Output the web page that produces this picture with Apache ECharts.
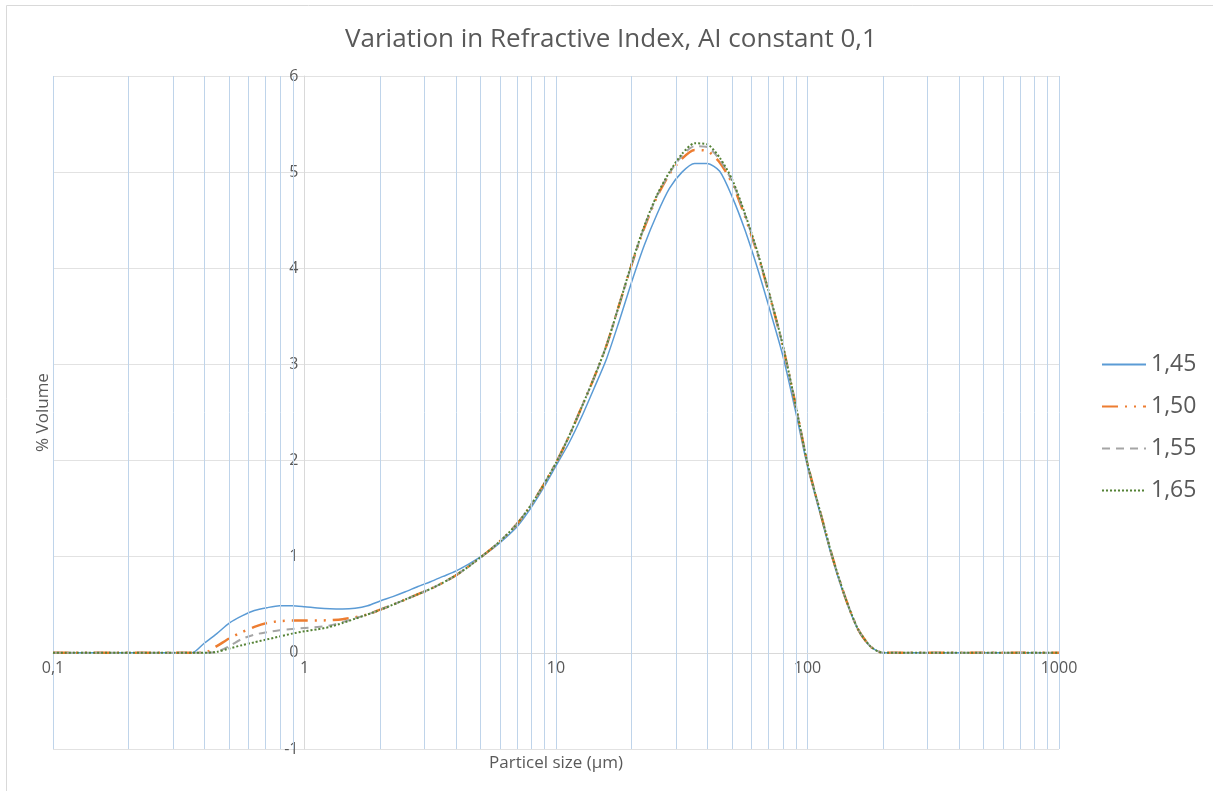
<!DOCTYPE html>
<html>
<head>
<meta charset="utf-8">
<script src="https://cdn.jsdelivr.net/npm/echarts@6/dist/echarts.min.js"></script>
<style>
  html, body { margin: 0; padding: 0; background: #ffffff; }
  #chart { width: 1213px; height: 791px; }
</style>
</head>
<body>
<div id="chart"></div>
<script>
// Particle size classes (µm)
const sizes = [0.1, 0.2, 0.3, 0.356, 0.399, 0.448, 0.502, 0.564, 0.632, 0.710, 0.796, 0.893,
  1.002, 1.125, 1.262, 1.416, 1.589, 1.783, 2.0, 2.244, 2.518, 2.825, 3.17, 3.557, 3.991, 4.477,
  5.024, 5.637, 6.325, 7.096, 7.962, 8.934, 10.02, 11.25, 12.62, 14.16, 15.89, 17.83, 20.0, 22.44,
  25.18, 28.25, 31.7, 35.57, 39.91, 44.77, 50.24, 56.37, 63.25, 70.96, 79.62, 89.34,
  100.2, 112.5, 126.2, 141.6, 158.9, 178.3, 200, 300, 500, 700, 1000];

// % Volume for each refractive index
const ri145 = [0, 0, 0, 0, 0.10, 0.20, 0.31, 0.385, 0.44, 0.47, 0.49, 0.49,
  0.48, 0.467, 0.458, 0.455, 0.463, 0.49, 0.54, 0.585, 0.635, 0.69, 0.74, 0.795, 0.85, 0.92,
  1.0, 1.09, 1.2, 1.33, 1.51, 1.72, 1.95, 2.18, 2.45, 2.75, 3.06, 3.45, 3.86, 4.24,
  4.56, 4.83, 5.0, 5.09, 5.09, 5.01, 4.74, 4.4, 4.0, 3.56, 3.1, 2.53,
  1.93, 1.44, 0.96, 0.56, 0.24, 0.065, 0, 0, 0, 0, 0];

const ri150 = [0, 0, 0, 0, 0, 0.07, 0.15, 0.215, 0.27, 0.31, 0.33, 0.336,
  0.336, 0.336, 0.34, 0.35, 0.37, 0.40, 0.45, 0.50, 0.555, 0.61, 0.665, 0.73, 0.805, 0.895,
  0.995, 1.1, 1.22, 1.36, 1.54, 1.75, 1.98, 2.25, 2.55, 2.86, 3.2, 3.62, 4.04, 4.42,
  4.74, 4.98, 5.14, 5.23, 5.22, 5.1, 4.88, 4.54, 4.15, 3.7, 3.2, 2.6,
  1.96, 1.46, 0.98, 0.57, 0.245, 0.065, 0, 0, 0, 0, 0];

const ri155 = [0, 0, 0, 0, 0, 0.01, 0.07, 0.145, 0.19, 0.215, 0.235, 0.248,
  0.258, 0.268, 0.285, 0.32, 0.36, 0.40, 0.45, 0.50, 0.555, 0.61, 0.665, 0.73, 0.805, 0.895,
  0.995, 1.1, 1.22, 1.36, 1.54, 1.75, 1.98, 2.25, 2.55, 2.86, 3.2, 3.62, 4.04, 4.43,
  4.75, 4.99, 5.17, 5.27, 5.26, 5.13, 4.9, 4.56, 4.16, 3.7, 3.2, 2.6,
  1.96, 1.46, 0.98, 0.57, 0.245, 0.065, 0, 0, 0, 0, 0];

const ri165 = [0, 0, 0, 0, 0, 0.01, 0.045, 0.08, 0.11, 0.14, 0.17, 0.2,
  0.225, 0.245, 0.27, 0.31, 0.355, 0.40, 0.447, 0.50, 0.555, 0.61, 0.665, 0.73, 0.805, 0.895,
  0.995, 1.1, 1.22, 1.36, 1.54, 1.75, 1.98, 2.25, 2.55, 2.86, 3.2, 3.62, 4.05, 4.44,
  4.76, 5.0, 5.19, 5.3, 5.29, 5.15, 4.92, 4.57, 4.17, 3.71, 3.21, 2.6,
  1.96, 1.46, 0.98, 0.57, 0.245, 0.065, 0, 0, 0, 0, 0];

const seriesNames = ['1,45', '1,50', '1,55', '1,65'];

// Intermediate log-scale gridlines between the decades
const minorGrid = [0.2, 0.3, 0.4, 0.5, 0.6, 0.7, 0.8, 0.9,
  2, 3, 4, 5, 6, 7, 8, 9,
  20, 30, 40, 50, 60, 70, 80, 90,
  200, 300, 400, 500, 600, 700, 800, 900];

const FONT = '"Open Sans", "Noto Sans", sans-serif';
const TEXT = '#595959';
const VGRID = '#bfd4ea';

// Plot rectangle; the category axis crosses at y = 0 and the value axis at x = 1
const GRID = { left: 53, right: 154, top: 76, bottom: 42 };
const Y_MIN = -1, Y_MAX = 6, X_MIN = 0.1, X_MAX = 1000;
const plotW = 1213 - GRID.left - GRID.right;
const plotH = 791 - GRID.top - GRID.bottom;
const xAxisShift = plotH * (0 - Y_MIN) / (Y_MAX - Y_MIN);
const yAxisShift = plotW * Math.log10(1 / X_MIN) / Math.log10(X_MAX / X_MIN);

const pairs = (ys) => sizes.map((x, i) => [x, ys[i]]);
const decimalComma = (v) => String(Number(Number(v).toPrecision(6))).replace('.', ',');

const chart = echarts.init(document.getElementById('chart'), null, { renderer: 'canvas' });

const lineSeries = (name, ys, color, width, dash) => ({
  name: name,
  type: 'line',
  data: pairs(ys),
  symbol: 'none',
  showSymbol: false,
  smooth: 0.25,
  z: 3,
  lineStyle: { color: color, width: width, type: dash, cap: 'butt', join: 'round' },
  itemStyle: { color: color },
  emphasis: { disabled: true }
});

chart.setOption({
  animation: false,
  textStyle: { fontFamily: FONT },
  title: {
    text: 'Variation in Refractive Index, AI constant 0,1',
    left: 345,
    top: 27,
    padding: 0,
    textStyle: { fontFamily: FONT, fontSize: 26, fontWeight: 'normal', color: TEXT }
  },
  legend: {
    data: seriesNames,
    orient: 'vertical',
    left: 1096,
    top: 348,
    itemWidth: 44,
    itemHeight: 14,
    itemGap: 19,
    itemStyle: { opacity: 0 },
    textStyle: { fontFamily: FONT, fontSize: 23, color: TEXT },
    selectedMode: false
  },
  grid: Object.assign({ containLabel: false, outerBoundsMode: 'none' }, GRID),
  xAxis: {
    type: 'log',
    logBase: 10,
    min: X_MIN,
    max: X_MAX,
    offset: -xAxisShift,
    name: 'Particel size (µm)',
    nameLocation: 'middle',
    nameGap: 102,
    nameTextStyle: { fontFamily: FONT, fontSize: 17, color: TEXT },
    axisLine: { show: true, onZero: false, lineStyle: { color: '#d9d9d9', width: 1 } },
    axisTick: { show: false },
    axisLabel: { color: TEXT, fontSize: 16, margin: 8, formatter: decimalComma },
    splitLine: { show: true, lineStyle: { color: VGRID, width: 1 } }
  },
  yAxis: {
    type: 'value',
    min: Y_MIN,
    max: Y_MAX,
    interval: 1,
    offset: -yAxisShift,
    name: '% Volume',
    nameLocation: 'middle',
    nameGap: 253,
    nameRotate: 90,
    nameTextStyle: { fontFamily: FONT, fontSize: 17, color: TEXT },
    axisLine: { show: true, onZero: false, lineStyle: { color: '#d9d9d9', width: 1 } },
    axisTick: { show: false },
    axisLabel: { color: TEXT, fontSize: 16, margin: 6 },
    splitLine: { show: true, lineStyle: { color: '#e2e2e2', width: 1 } }
  },
  graphic: [{
    type: 'rect',
    silent: true,
    z: -10,
    shape: { x: 6.5, y: 5.5, width: 1230, height: 820 },
    style: { fill: null, stroke: '#d9d9d9', lineWidth: 1 }
  }],
  series: [
    {
      name: 'minor-grid',
      type: 'line',
      data: [],
      z: 1,
      silent: true,
      markLine: {
        silent: true,
        symbol: ['none', 'none'],
        label: { show: false },
        lineStyle: { color: VGRID, width: 1, type: 'solid' },
        emphasis: { disabled: true },
        data: minorGrid.map(v => ({ xAxis: v }))
      }
    },
    lineSeries(seriesNames[0], ri145, '#5b9bd5', 1.5, 'solid'),
    lineSeries(seriesNames[1], ri150, '#ed7d31', 2.5, [16, 7, 2, 7, 2, 7]),
    lineSeries(seriesNames[2], ri155, '#a5a5a5', 2, [8, 6]),
    lineSeries(seriesNames[3], ri165, '#548235', 2, [2, 2])
  ]
});
</script>
</body>
</html>
